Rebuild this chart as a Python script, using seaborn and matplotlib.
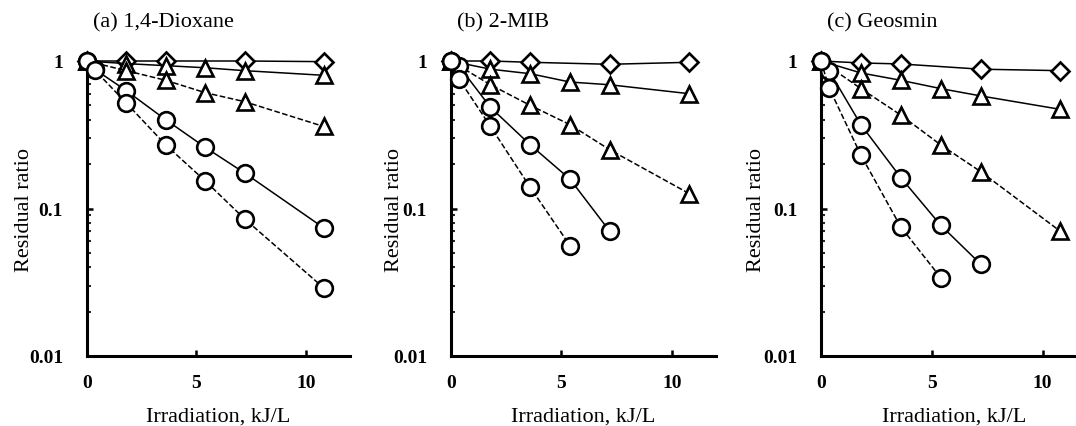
import numpy as np
import pandas as pd
import matplotlib
matplotlib.use("Agg")
import matplotlib.pyplot as plt
import seaborn as sns

sns.set_theme(style="ticks")
plt.rcParams["font.family"] = ["Liberation Serif", "DejaVu Serif"]

# Irradiation doses (kJ/L)
x_diamond = [0, 1.8, 3.6, 7.2, 10.8]
x_tri = [0, 1.8, 3.6, 5.4, 7.2, 10.8]

# (a) 1,4-Dioxane residual ratios
a_diamond = [1.0, 1.0, 1.0, 1.0, 0.99]
a_tri_solid = [1.0, 0.96, 0.93, 0.90, 0.86, 0.80]
a_tri_dash = [1.0, 0.86, 0.74, 0.61, 0.53, 0.36]
a_circ_solid_x = [0, 0.36, 1.8, 3.6, 5.4, 7.2, 10.8]
a_circ_solid = [1.0, 0.88, 0.63, 0.40, 0.26, 0.174, 0.074]
a_circ_dash_x = [0, 0.36, 1.8, 3.6, 5.4, 7.2, 10.8]
a_circ_dash = [1.0, 0.87, 0.52, 0.27, 0.154, 0.085, 0.029]

# (b) 2-MIB residual ratios
b_diamond = [1.0, 1.0, 0.98, 0.95, 0.98]
b_tri_solid = [1.0, 0.88, 0.82, 0.72, 0.69, 0.60]
b_tri_dash = [1.0, 0.69, 0.50, 0.37, 0.25, 0.126]
b_circ_solid_x = [0, 0.36, 1.8, 3.6, 5.4, 7.2]
b_circ_solid = [1.0, 0.93, 0.485, 0.27, 0.158, 0.070]
b_circ_dash_x = [0, 0.36, 1.8, 3.6, 5.4]
b_circ_dash = [1.0, 0.76, 0.36, 0.139, 0.056]

# (c) Geosmin residual ratios
c_diamond = [1.0, 0.97, 0.955, 0.88, 0.86]
c_tri_solid = [1.0, 0.83, 0.74, 0.65, 0.58, 0.47]
c_tri_dash = [1.0, 0.65, 0.43, 0.27, 0.178, 0.070]
c_circ_solid_x = [0, 0.36, 1.8, 3.6, 5.4, 7.2]
c_circ_solid = [1.0, 0.86, 0.37, 0.162, 0.077, 0.042]
c_circ_dash_x = [0, 0.36, 1.8, 3.6, 5.4]
c_circ_dash = [1.0, 0.66, 0.23, 0.075, 0.034]

titles = ["(a) 1,4-Dioxane", "(b) 2-MIB", "(c) Geosmin"]
panels = [
    [(x_diamond, a_diamond, "D", "-"), (x_tri, a_tri_solid, "^", "-"),
     (x_tri, a_tri_dash, "^", "--"), (a_circ_solid_x, a_circ_solid, "o", "-"),
     (a_circ_dash_x, a_circ_dash, "o", "--")],
    [(x_diamond, b_diamond, "D", "-"), (x_tri, b_tri_solid, "^", "-"),
     (x_tri, b_tri_dash, "^", "--"), (b_circ_solid_x, b_circ_solid, "o", "-"),
     (b_circ_dash_x, b_circ_dash, "o", "--")],
    [(x_diamond, c_diamond, "D", "-"), (x_tri, c_tri_solid, "^", "-"),
     (x_tri, c_tri_dash, "^", "--"), (c_circ_solid_x, c_circ_solid, "o", "-"),
     (c_circ_dash_x, c_circ_dash, "o", "--")],
]

W, H = 1076, 427
fig = plt.figure(figsize=(W / 100, H / 100), dpi=100)
fig.patch.set_facecolor("white")

# axes frames in pixels: left edge and width spanning x = 0..12
frames = [(86.7, 263.2), (450.7, 265.2), (821.0, 266.0)]
ylab_off = [52.7, 46.7, 55.0]
y_bot, y_top = 357.0, 62.0

msize = {"o": 12.0, "^": 11.5, "D": 9.0}

for i, ((left, width), title, series) in enumerate(zip(frames, titles, panels)):
    ax = fig.add_axes([left / W, (H - y_bot) / H, width / W, (y_bot - y_top) / H])
    ax.set_facecolor("white")
    for xs, ys, mk, ls in series:
        df = pd.DataFrame({"x": xs, "y": ys})
        sns.lineplot(data=df, x="x", y="y", ax=ax, color="black",
                     linestyle=ls, linewidth=1.1, marker=mk,
                     markersize=msize[mk], markerfacecolor="white",
                     markeredgecolor="black", markeredgewidth=1.9,
                     estimator=None, sort=False, clip_on=False, zorder=3,
                     dashes=(6, 4.5) if ls == "--" else "")
    ax.set_yscale("log")
    ax.set_xlim(0, 12)
    ax.set_ylim(0.01, 1)
    ax.set_xticks([0, 5, 10])
    ax.set_xticklabels(["0", "5", "10"])
    ax.set_yticks([0.01, 0.1, 1])
    ax.set_yticklabels(["0.01", "0.1", "1"])
    ax.yaxis.set_minor_locator(matplotlib.ticker.LogLocator(base=10, subs=np.arange(2, 10)))
    ax.yaxis.set_minor_formatter(matplotlib.ticker.NullFormatter())
    ax.tick_params(axis="both", which="major", direction="in", length=4,
                   width=1.8, labelsize=14, color="black", labelcolor="black")
    ax.tick_params(axis="x", which="major", pad=13)
    ax.tick_params(axis="y", which="major", pad=17)
    ax.tick_params(axis="y", which="minor", direction="in", length=3, width=1.5)
    for lab in ax.get_xticklabels() + ax.get_yticklabels():
        lab.set_fontweight("bold")
    sns.despine(ax=ax)
    for s in ("left", "bottom"):
        ax.spines[s].set_linewidth(2.2)
        ax.spines[s].set_color("black")
    ax.grid(False)
    ax.set_xlabel("Irradiation, kJ/L", fontsize=16, labelpad=11, color="black")
    ax.set_ylabel("Residual ratio", fontsize=16, color="black")
    ax.yaxis.set_label_coords(-ylab_off[i] / width, 0.5)
    fig.text((left + 6) / W, (H - 23) / H, title, fontsize=16,
             ha="left", va="center", color="black")

fig.savefig("out.png", dpi=100, facecolor="white")
